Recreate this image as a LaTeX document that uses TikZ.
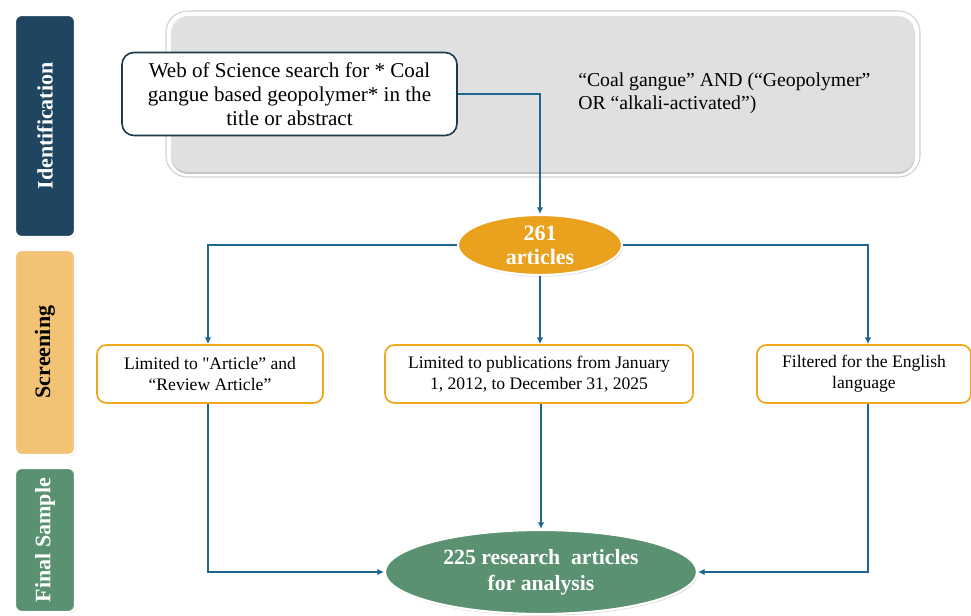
\documentclass[tikz,border=0pt]{standalone}
\usepackage{fontspec}
\setmainfont{Liberation Serif}
\newfontfamily\plainquote{Liberation Serif}[Ligatures=TeXOff]
\usetikzlibrary{arrows.meta,shadows,shapes.geometric}
\definecolor{idblue}{HTML}{1F4560}
\definecolor{scrorange}{HTML}{F2C275}
\definecolor{fingreen}{HTML}{5A9170}
\definecolor{linkblue}{HTML}{1F6790}
\definecolor{boxorange}{HTML}{F0A81E}
\definecolor{ellorange}{HTML}{E9A11E}
\definecolor{panelgray}{HTML}{E0E0E0}
\definecolor{wosborder}{HTML}{1B3A4B}
\tikzset{
  phasebar/.style={draw=white, line width=1.6pt, rounded corners=5pt,
    drop shadow={shadow xshift=0.8pt, shadow yshift=-0.8pt, opacity=0.35}},
  phaselabel/.style={rotate=90, font=\bfseries\fontsize{16.5}{19}\selectfont},
  filterbox/.style={draw=boxorange, line width=1.3pt, fill=white, rounded corners=7pt,
    align=center, font=\fontsize{13.2}{15.5}\selectfont, inner sep=0pt},
  link/.style={draw=linkblue, line width=1.2pt},
  linkarrow/.style={link, -{Latex[length=5pt,width=5pt]}},
  countell/.style={ellipse, draw=white, line width=1.6pt, text=white, align=center,
    inner sep=0pt, drop shadow={shadow xshift=0.8pt, shadow yshift=-1.2pt, opacity=0.3}}
}
\begin{document}
\begin{tikzpicture}[x=0.75pt,y=-0.75pt]
\useasboundingbox (0,0) rectangle (971,616);

% phase bars on the left
\path[phasebar, fill=idblue] (15,15) rectangle (75,237);
\node[phaselabel, text=white] (lblid) at (45,126) {Identification};
\path[phasebar, fill=scrorange] (15,250) rectangle (75,455);
\node[phaselabel, text=black] (lblscr) at (45,352) {Screening};
\path[phasebar, fill=fingreen] (15,468) rectangle (75,612);
\node[phaselabel, text=white] (lblfin) at (45,540) {Final Sample};

% search panel
\draw[draw=black!18, fill=white, rounded corners=16pt, line width=0.8pt] (166,11) rectangle (920,177);
\path[fill=panelgray, rounded corners=13pt,
  drop shadow={shadow xshift=0pt, shadow yshift=-1.5pt, opacity=0.45}] (171,16) rectangle (915,172);

\node[draw=wosborder, line width=1.2pt, fill=white, rounded corners=9pt,
  minimum width=335*0.75pt, minimum height=83*0.75pt, align=center, inner sep=0pt,
  font=\fontsize{15.8}{17.8}\selectfont] (wos) at (289.5,94)
  {Web of Science search for * Coal\\gangue based geopolymer* in the\\title or abstract};

\node[align=left, anchor=west, font=\fontsize{14.8}{17}\selectfont, inner sep=0pt] (query) at (578,93)
  {“Coal gangue” AND (“Geopolymer”\\OR “alkali-activated”)};

% count after search
\node[countell, fill=ellorange, minimum width=164*0.75pt, minimum height=60*0.75pt,
  font=\bfseries\fontsize{16.5}{18}\selectfont] (n261) at (540,245) {261\\articles};

% screening filters
\node[filterbox, minimum width=226*0.75pt, minimum height=58*0.75pt] (ftype) at (210,374)
  {Limited to {\plainquote"}Article” and\\“Review Article”};
\node[filterbox, minimum width=308*0.75pt, minimum height=58*0.75pt] (fdate) at (539,374)
  {Limited to publications from January\\1, 2012, to December 31, 2025};
\node[filterbox, minimum width=214*0.75pt, minimum height=58*0.75pt] (flang) at (864,374)
  {Filtered for the English\\language};

% final sample
\node[countell, fill=fingreen, minimum width=312*0.75pt, minimum height=84*0.75pt,
  font=\bfseries\fontsize{16.3}{19.5}\selectfont] (final) at (541,572)
  {225 research\ \ articles\\for analysis};

% connectors
\draw[linkarrow] (wos.east) -| (n261.north);
\draw[linkarrow] (n261.west) -| (ftype.north -| 208,0);
\draw[linkarrow] (n261.east) -| (flang.north -| 868,0);
\draw[linkarrow] (n261.south) -- (fdate.north -| n261.south);
\draw[linkarrow] (ftype.south -| 208,0) |- (final.west);
\draw[linkarrow] (fdate.south -| final.north) -- (final.north);
\draw[linkarrow] (flang.south -| 868,0) |- (final.east);
\end{tikzpicture}
\end{document}
